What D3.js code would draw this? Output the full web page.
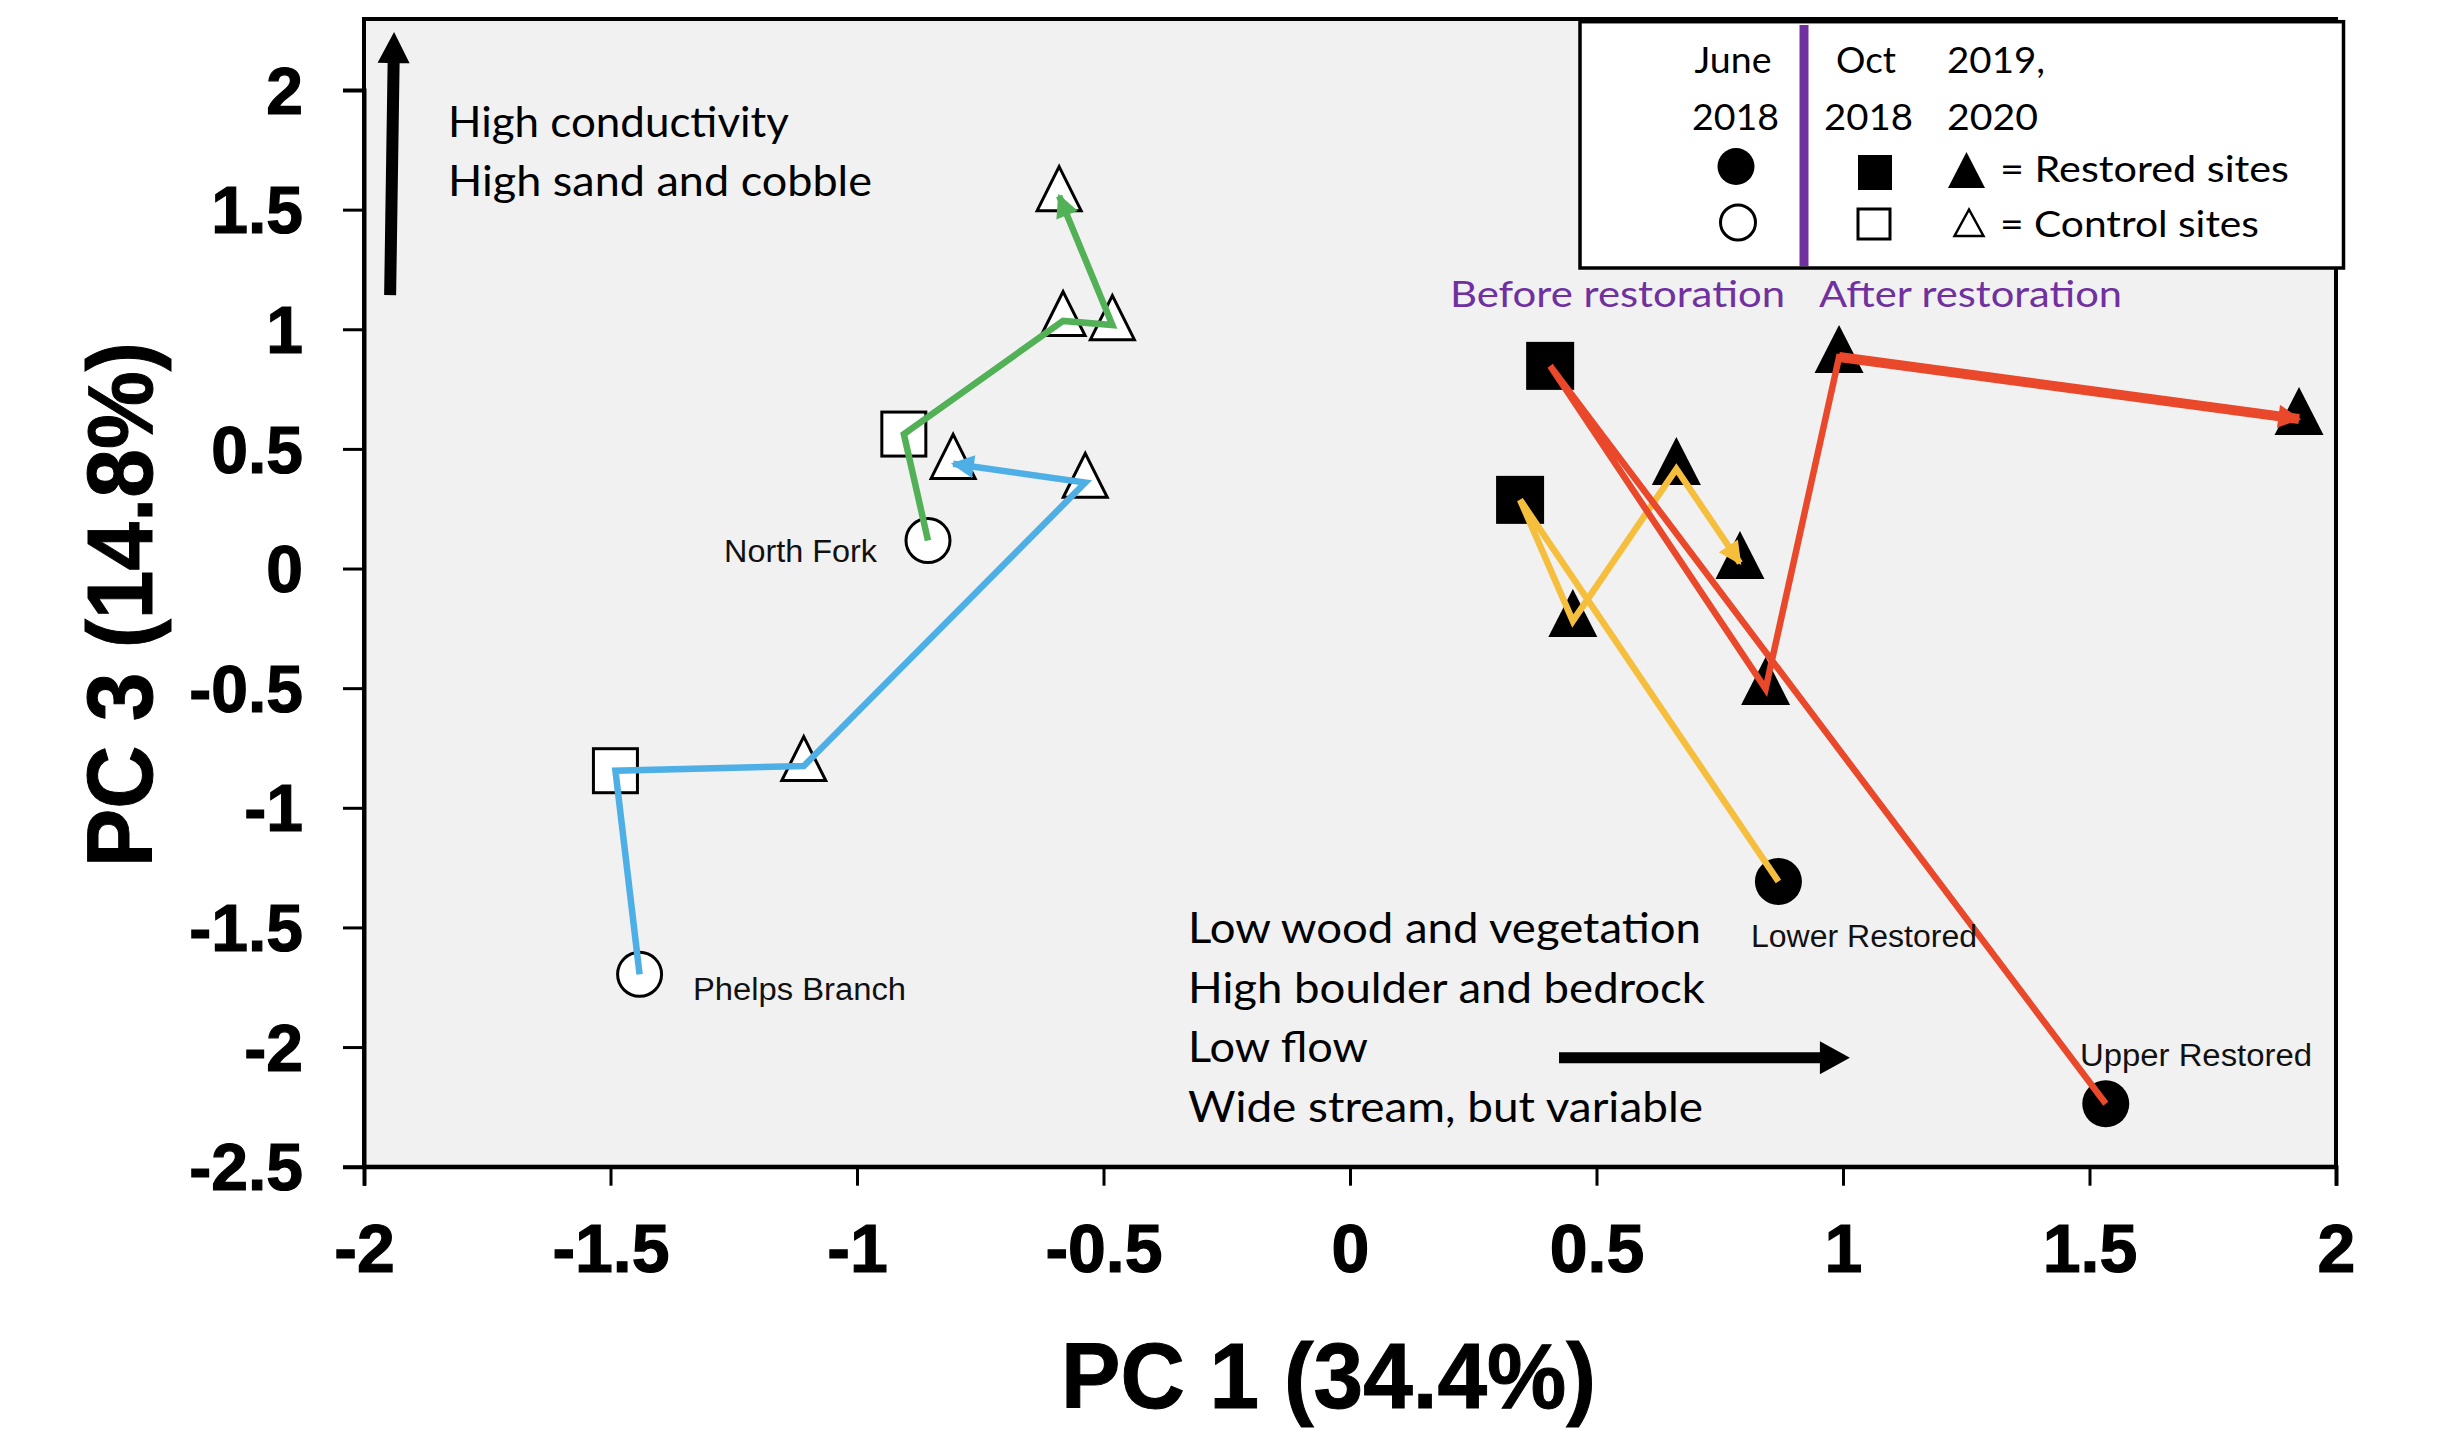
<!DOCTYPE html>
<html><head><meta charset="utf-8">
<script src="https://cdn.jsdelivr.net/npm/d3@7"></script>
<style>body{margin:0;background:#fff} svg{display:block}</style>
</head><body>
<svg id="chart" width="2445" height="1431"></svg>
<script>
// ---------- data ----------
const xTicks = [-2, -1.5, -1, -0.5, 0, 0.5, 1, 1.5, 2];
const xTickLabels = ["-2", "-1.5", "-1", "-0.5", "0", "0.5", "1", "1.5", "2"];
const yTicks = [2, 1.5, 1, 0.5, 0, -0.5, -1, -1.5, -2, -2.5];
const yTickLabels = ["2", "1.5", "1", "0.5", "0", "-0.5", "-1", "-1.5", "-2", "-2.5"];

const siteNames = ["North Fork", "Phelps Branch", "Lower Restored", "Upper Restored"];
const siteTypes = ["control", "control", "restored", "restored"];
// sampling order: June 2018 (circle), Oct 2018 (square), then 2019/2020 (triangles)
const sampleShapes = ["circle", "square", "triangle", "triangle", "triangle"];

const northForkPC1 = [-0.856, -0.905, -0.582, -0.482, -0.590];
const northForkPC3 = [0.117, 0.562, 1.035, 1.018, 1.557];
const phelpsPC1 = [-1.441, -1.490, -1.108, -0.537, -0.805];
const phelpsPC3 = [-1.696, -0.845, -0.825, 0.359, 0.438];
const lowerPC1 = [0.869, 0.345, 0.452, 0.662, 0.791];
const lowerPC3 = [-1.308, 0.287, -0.219, 0.416, 0.023];
const upperPC1 = [1.533, 0.406, 0.843, 0.992, 1.925];
const upperPC3 = [-2.237, 0.847, -0.503, 0.884, 0.625];

// loading arrows (PC1, PC3) start -> end
const upArrowPC1 = [-1.947, -1.939];
const upArrowPC3 = [1.143, 2.242];
const rightArrowPC1 = [0.424, 1.014];
const rightArrowPC3 = [-2.045, -2.045];

const topNotes = ["High conductivity", "High sand and cobble"];
const bottomNotes = ["Low wood and vegetation", "High boulder and bedrock", "Low flow", "Wide stream, but variable"];

// ---------- layout ----------
const svg = d3.select("#chart");
const x = d3.scaleLinear().domain([-2, 2]).range([364, 2336]);
const y = d3.scaleLinear().domain([-2.5, 2]).range([1166.7, 90]);
const plotTop = 19;

const colors = ["#52B157", "#4DAFE6", "#F6BE3D", "#E9482B"];
const ARIAL = "'Liberation Sans', Arial, Helvetica, sans-serif";
const CAL = "Lato, 'Open Sans', sans-serif";

// background + frame
svg.append("rect").attr("x", x(-2)).attr("y", plotTop)
  .attr("width", x(2) - x(-2)).attr("height", y(-2.5) - plotTop)
  .attr("fill", "#F1F1F1").attr("stroke", "#000").attr("stroke-width", 4);

// axes
const xAxis = d3.axisBottom(x).tickValues(xTicks).tickSize(19)
  .tickFormat((d, i) => xTickLabels[i]);
const gx = svg.append("g").attr("transform", `translate(0,${y(-2.5)})`).call(xAxis);
gx.select(".domain").attr("stroke", "#000").attr("stroke-width", 4);
gx.selectAll(".tick line").attr("stroke", "#000").attr("stroke-width", 3);
gx.selectAll(".tick text").attr("font-family", ARIAL).attr("font-weight", "bold")
  .attr("font-size", 68).attr("fill", "#000").attr("stroke", "#000").attr("stroke-width", 1.2)
  .attr("y", 0).attr("dy", null)
  .attr("transform", "translate(0,105)");

const yAxis = d3.axisLeft(y).tickValues(yTicks).tickSize(21)
  .tickFormat((d, i) => yTickLabels[i]);
const gy = svg.append("g").attr("transform", `translate(${x(-2)},0)`).call(yAxis);
gy.select(".domain").attr("stroke", "#000").attr("stroke-width", 4);
gy.selectAll(".tick line").attr("stroke", "#000").attr("stroke-width", 3);
gy.selectAll(".tick text").attr("font-family", ARIAL).attr("font-weight", "bold")
  .attr("font-size", 66).attr("fill", "#000").attr("stroke", "#000").attr("stroke-width", 1.2)
  .attr("x", -61).attr("dy", "0.35em");

// axis titles
svg.append("text").attr("x", 1328.5).attr("y", 1408).attr("text-anchor", "middle")
  .attr("font-family", ARIAL).attr("font-weight", "bold").attr("font-size", 92)
  .attr("stroke", "#000").attr("stroke-width", 1)
  .attr("textLength", 535).attr("lengthAdjust", "spacingAndGlyphs")
  .text("PC 1 (34.4%)");
svg.append("text").attr("transform", "translate(151.7,604.6) rotate(-90)")
  .attr("text-anchor", "middle")
  .attr("font-family", ARIAL).attr("font-weight", "bold").attr("font-size", 92)
  .attr("stroke", "#000").attr("stroke-width", 1)
  .attr("textLength", 525).attr("lengthAdjust", "spacingAndGlyphs")
  .text("PC 3 (14.8%)");

// ---------- sites ----------
const sites = siteNames.map((name, i) => {
  const pc1 = [northForkPC1, phelpsPC1, lowerPC1, upperPC1][i];
  const pc3 = [northForkPC3, phelpsPC3, lowerPC3, upperPC3][i];
  return { name, type: siteTypes[i], color: colors[i],
    pts: pc1.map((v, j) => ({ pc1: v, pc3: pc3[j], shape: sampleShapes[j] })) };
});

function triPath(w, h) {
  return `M0,${-2 * h / 3}L${w / 2},${h / 3}L${-w / 2},${h / 3}Z`;
}
function drawSymbol(g, shape, filled) {
  const fill = filled ? "#000" : "#fff";
  const sw = filled ? 0 : 3;
  if (shape === "circle") {
    g.append("circle").attr("r", filled ? 23.5 : 22).attr("fill", fill)
      .attr("stroke", "#000").attr("stroke-width", sw);
  } else if (shape === "square") {
    const s = filled ? 48 : 44;
    g.append("rect").attr("x", -s / 2).attr("y", -s / 2).attr("width", s).attr("height", s)
      .attr("fill", fill).attr("stroke", "#000").attr("stroke-width", sw);
  } else {
    g.append("path").attr("d", filled ? triPath(49, 48) : triPath(44, 44))
      .attr("fill", fill).attr("stroke", "#000").attr("stroke-width", sw)
      .attr("stroke-linejoin", "miter");
  }
}

// markers
const markG = svg.append("g");
sites.forEach(s => {
  s.pts.forEach(p => {
    const g = markG.append("g").attr("transform", `translate(${x(p.pc1)},${y(p.pc3)})`);
    drawSymbol(g, p.shape, s.type === "restored");
  });
});

// arrow heads
const defs = svg.append("defs");
sites.forEach((s, i) => {
  defs.append("marker").attr("id", "ah" + i).attr("viewBox", "0 0 10 10")
    .attr("refX", 9).attr("refY", 5).attr("markerUnits", "userSpaceOnUse")
    .attr("markerWidth", 25).attr("markerHeight", 23).attr("orient", "auto")
    .append("path").attr("d", "M0,0L10,5L0,10Z").attr("fill", s.color);
});

// trajectories (drawn on top of markers)
const line = d3.line().x(p => x(p.pc1)).y(p => y(p.pc3));
sites.forEach((s, i) => {
  svg.append("path").datum(s.pts).attr("d", line)
    .attr("fill", "none").attr("stroke", s.color).attr("stroke-width", 6.5)
    .attr("stroke-linejoin", "miter").attr("marker-end", `url(#ah${i})`);
});
// the last Upper Restored leg is drawn heavier in the original
const up = sites[3].pts;
svg.append("path").datum(up.slice(-2)).attr("d", line)
  .attr("fill", "none").attr("stroke", sites[3].color).attr("stroke-width", 10);

// site labels
const labelPos = [
  { x: 877, y: 562, anchor: "end", w: 153 },
  { x: 693, y: 1000, anchor: "start", w: 213 },
  { x: 1751, y: 947, anchor: "start", w: 226 },
  { x: 2080, y: 1066, anchor: "start", w: 232 }
];
siteNames.forEach((n, i) => {
  svg.append("text").attr("x", labelPos[i].x).attr("y", labelPos[i].y)
    .attr("text-anchor", labelPos[i].anchor).attr("font-family", ARIAL)
    .attr("font-size", 31).attr("fill", "#111")
    .attr("textLength", labelPos[i].w).attr("lengthAdjust", "spacingAndGlyphs")
    .text(n);
});

// ---------- loading arrows ----------
function blockArrow(x0, y0, x1, y1, shaftW, headW, headL) {
  const dx = x1 - x0, dy = y1 - y0, L = Math.hypot(dx, dy);
  const ux = dx / L, uy = dy / L, nx = -uy, ny = ux;
  const bx = x1 - ux * headL, by = y1 - uy * headL;
  const P = (px, py) => `${px},${py}`;
  return "M" + [
    P(x0 + nx * shaftW / 2, y0 + ny * shaftW / 2),
    P(bx + nx * shaftW / 2, by + ny * shaftW / 2),
    P(bx + nx * headW / 2, by + ny * headW / 2),
    P(x1, y1),
    P(bx - nx * headW / 2, by - ny * headW / 2),
    P(bx - nx * shaftW / 2, by - ny * shaftW / 2),
    P(x0 - nx * shaftW / 2, y0 - ny * shaftW / 2)
  ].join("L") + "Z";
}
svg.append("path").attr("d", blockArrow(x(upArrowPC1[0]), y(upArrowPC3[0]),
  x(upArrowPC1[1]), y(upArrowPC3[1]), 12, 32, 31)).attr("fill", "#000");
svg.append("path").attr("d", blockArrow(x(rightArrowPC1[0]), y(rightArrowPC3[0]),
  x(rightArrowPC1[1]), y(rightArrowPC3[1]), 11, 33, 30)).attr("fill", "#000");

// ---------- annotation text ----------
const topW = [341, 424];
topNotes.forEach((t, i) => {
  svg.append("text").attr("x", 448).attr("y", 137 + i * 58.5)
    .attr("font-family", CAL).attr("font-size", 43).attr("fill", "#000")
    .attr("textLength", topW[i]).attr("lengthAdjust", "spacingAndGlyphs").text(t);
});
const botW = [513, 517, 180, 515];
bottomNotes.forEach((t, i) => {
  svg.append("text").attr("x", 1188).attr("y", 943 + i * 59.7)
    .attr("font-family", CAL).attr("font-size", 43).attr("fill", "#000")
    .attr("textLength", botW[i]).attr("lengthAdjust", "spacingAndGlyphs").text(t);
});

// ---------- legend ----------
const PURPLE = "#7030A0";
svg.append("rect").attr("x", 1580).attr("y", 21.7).attr("width", 763.5).attr("height", 246.3)
  .attr("fill", "#fff").attr("stroke", "#000").attr("stroke-width", 3.5);
svg.append("line").attr("x1", 1804).attr("x2", 1804).attr("y1", 25).attr("y2", 266)
  .attr("stroke", PURPLE).attr("stroke-width", 9);

const legText = [
  { t: "June", x: 1771.5, y: 73, a: "end", w: 77 },
  { t: "2018", x: 1779, y: 130, a: "end", w: 87 },
  { t: "Oct", x: 1836, y: 73, a: "start", w: 60 },
  { t: "2018", x: 1824, y: 130, a: "start", w: 89 },
  { t: "2019,", x: 1947, y: 73, a: "start", w: 98 },
  { t: "2020", x: 1947, y: 130, a: "start", w: 91 },
  { t: "= Restored sites", x: 2000, y: 182, a: "start", w: 289 },
  { t: "= Control sites", x: 2000, y: 237, a: "start", w: 259 }
];
legText.forEach(d => {
  svg.append("text").attr("x", d.x).attr("y", d.y).attr("text-anchor", d.a)
    .attr("font-family", CAL).attr("font-size", 36).attr("fill", "#000")
    .attr("textLength", d.w).attr("lengthAdjust", "spacingAndGlyphs").text(d.t);
});
// legend symbols
const lg = svg.append("g");
lg.append("circle").attr("cx", 1736).attr("cy", 166.5).attr("r", 18.5).attr("fill", "#000");
lg.append("circle").attr("cx", 1738).attr("cy", 222.5).attr("r", 17.5).attr("fill", "#fff")
  .attr("stroke", "#000").attr("stroke-width", 3);
lg.append("rect").attr("x", 1858).attr("y", 155).attr("width", 34).attr("height", 35).attr("fill", "#000");
lg.append("rect").attr("x", 1858).attr("y", 209).attr("width", 32).attr("height", 30).attr("fill", "#fff")
  .attr("stroke", "#000").attr("stroke-width", 3);
lg.append("path").attr("d", "M1966.5,152L1985,188L1948,188Z").attr("fill", "#000");
lg.append("path").attr("d", "M1969,209.5L1983.5,236L1954.5,236Z").attr("fill", "#fff")
  .attr("stroke", "#000").attr("stroke-width", 2.5);

svg.append("text").attr("x", 1450).attr("y", 307).attr("font-family", CAL)
  .attr("font-size", 36).attr("fill", PURPLE)
  .attr("textLength", 335).attr("lengthAdjust", "spacingAndGlyphs").text("Before restoration");
svg.append("text").attr("x", 1819).attr("y", 307).attr("font-family", CAL)
  .attr("font-size", 36).attr("fill", PURPLE)
  .attr("textLength", 303).attr("lengthAdjust", "spacingAndGlyphs").text("After restoration");
</script>
</body></html>
